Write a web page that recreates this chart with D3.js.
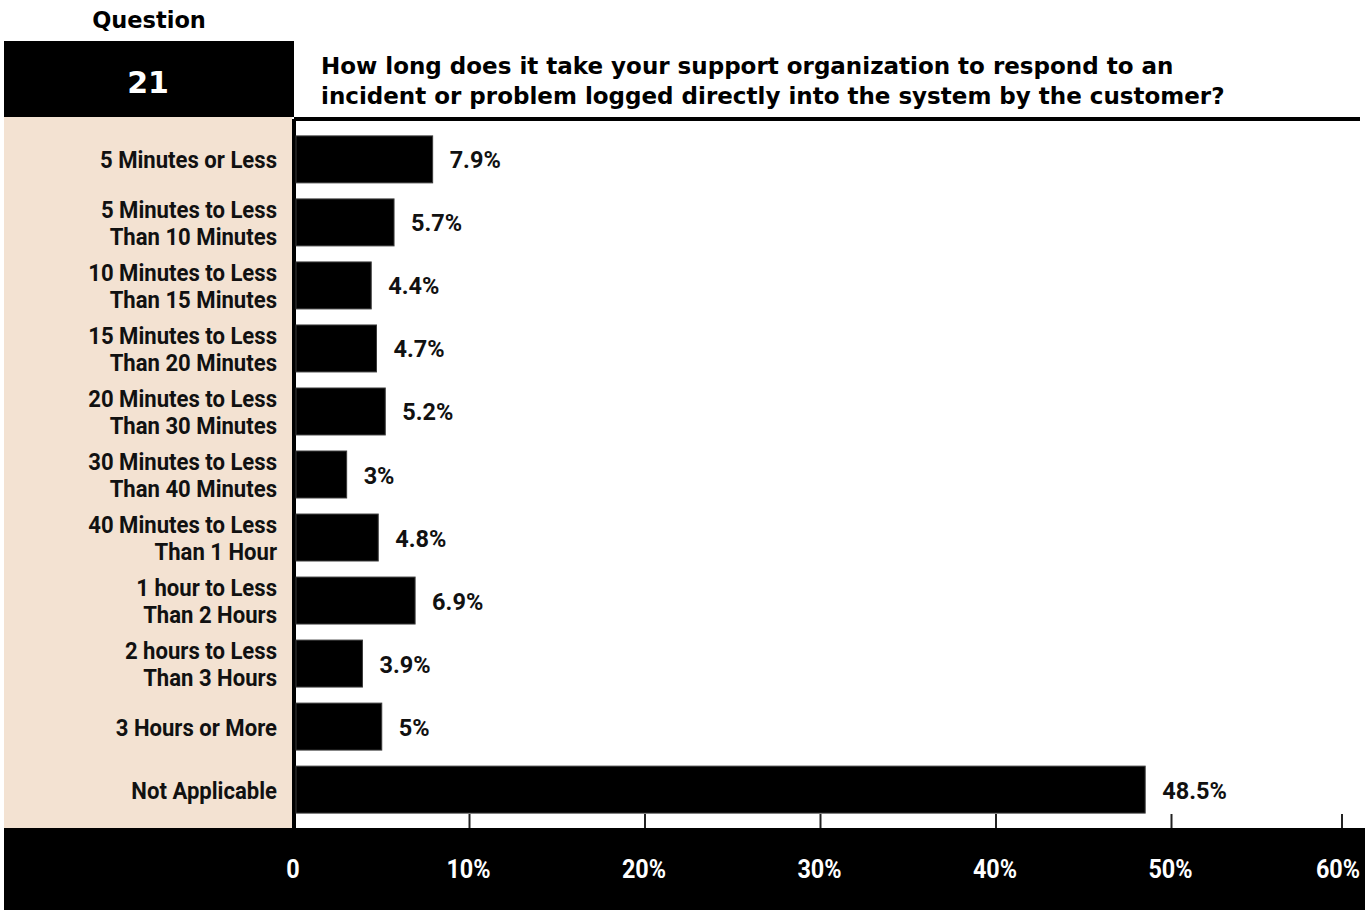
<!DOCTYPE html>
<html>
<head>
<meta charset="utf-8">
<script src="https://cdn.jsdelivr.net/npm/d3@7/dist/d3.min.js"></script>
<style>
  html, body { margin: 0; padding: 0; background: #fff; }
  svg { display: block; }
  .cond { font-family: "Roboto", "Liberation Sans", sans-serif; font-weight: bold; }
  .geo { font-family: "DejaVu Sans", "Lato", sans-serif; font-weight: bold; }
</style>
</head>
<body>
<svg id="chart" width="1365" height="912"></svg>
<script>
// Response-time categories (each entry = lines of the label)
const categories = [
  ["5 Minutes or Less"],
  ["5 Minutes to Less", "Than 10 Minutes"],
  ["10 Minutes to Less", "Than 15 Minutes"],
  ["15 Minutes to Less", "Than 20 Minutes"],
  ["20 Minutes to Less", "Than 30 Minutes"],
  ["30 Minutes to Less", "Than 40 Minutes"],
  ["40 Minutes to Less", "Than 1 Hour"],
  ["1 hour to Less", "Than 2 Hours"],
  ["2 hours to Less", "Than 3 Hours"],
  ["3 Hours or More"],
  ["Not Applicable"]
];
// Share of respondents, percent
const values = [7.9, 5.7, 4.4, 4.7, 5.2, 3, 4.8, 6.9, 3.9, 5, 48.5];
// Axis ticks
const tickValues = [0, 10, 20, 30, 40, 50, 60];
const tickLabels = ["0", "10%", "20%", "30%", "40%", "50%", "60%"];

const questionNumber = "21";
const questionLines = [
  "How long does it take your support organization to respond to an",
  "incident or problem logged directly into the system by the customer?"
];

const svg = d3.select("#chart");
const W = 1365, H = 912;

const x = d3.scaleLinear().domain([0, 60]).range([294, 1347]);
const keys = categories.map((c, i) => i);
const y = d3.scaleBand().domain(keys).range([117, 832]).paddingInner(0.255).paddingOuter(0.3);

// Keep the rightmost tick and its label inside the page edge
const tickX = v => Math.min(x(v), 1342);
const tickLabelX = v => Math.min(x(v) - 1, 1338);

// Narrow a text run horizontally to imitate a condensed face
function condense(sel, factor) {
  sel.each(function() {
    const w = this.getComputedTextLength();
    d3.select(this).attr("textLength", w * factor).attr("lengthAdjust", "spacingAndGlyphs");
  });
}

// Beige label panel
svg.append("rect").attr("x", 4).attr("y", 117).attr("width", 288).attr("height", 711)
  .attr("fill", "#f3e2d2");

// Header: "Question" caption and number box
svg.append("text").attr("class", "geo").attr("x", 149).attr("y", 28)
  .attr("text-anchor", "middle").attr("font-size", 22.5).attr("fill", "#000").text("Question");
svg.append("rect").attr("x", 4).attr("y", 41).attr("width", 290).attr("height", 76).attr("fill", "#000");
svg.append("text").attr("class", "geo").attr("x", 148).attr("y", 93)
  .attr("text-anchor", "middle").attr("font-size", 30).attr("fill", "#fff").text(questionNumber);

// Question title
svg.append("g").selectAll("text").data(questionLines).join("text")
  .attr("class", "geo").attr("x", 321).attr("y", (d, i) => 74 + i * 30)
  .attr("font-size", 23).attr("fill", "#000").text(d => d);

// Rule under the title
svg.append("rect").attr("x", 294).attr("y", 117).attr("width", 1066).attr("height", 4).attr("fill", "#000");

// Bottom axis band
svg.append("rect").attr("x", 4).attr("y", 828).attr("width", W - 4).attr("height", 82).attr("fill", "#000");

// Tick marks rising from the band
svg.append("g").selectAll("line").data(tickValues.filter(v => v > 0)).join("line")
  .attr("x1", d => tickX(d)).attr("x2", d => tickX(d))
  .attr("y1", 814).attr("y2", 828)
  .attr("stroke", "#222").attr("stroke-width", 2);

// Tick labels
svg.append("g").selectAll("text").data(tickValues).join("text")
  .attr("class", "cond").attr("x", d => tickLabelX(d)).attr("y", 878)
  .attr("text-anchor", "middle").attr("font-size", 26).attr("fill", "#fff")
  .text((d, i) => tickLabels[i])
  .call(condense, 0.9);

// Value axis baseline
svg.append("rect").attr("x", 292).attr("y", 119).attr("width", 4).attr("height", 709).attr("fill", "#000");

// Bars
svg.append("g").selectAll("rect").data(values).join("rect")
  .attr("x", x(0) + 2)
  .attr("y", (d, i) => y(i))
  .attr("width", d => x(d) - x(0) - 2)
  .attr("height", y.bandwidth())
  .attr("fill", "#000").attr("stroke", "#3a3a3a").attr("stroke-width", 1);

// Value labels
svg.append("g").selectAll("text").data(values).join("text")
  .attr("class", "cond")
  .attr("x", d => x(d) + 17)
  .attr("y", (d, i) => y(i) + y.bandwidth() / 2 + 9)
  .attr("font-size", 23.5).attr("fill", "#111")
  .text(d => d + "%");

// Category labels, one text per line
const rows = [];
categories.forEach((lines, i) => {
  const cy = y(i) + y.bandwidth() / 2;
  lines.forEach((t, j) => rows.push({ t, yy: cy - (lines.length - 1) * 13.5 + j * 27 + 9 }));
});
svg.append("g").selectAll("text").data(rows).join("text")
  .attr("class", "cond").attr("text-anchor", "end")
  .attr("x", 277).attr("y", d => d.yy)
  .attr("font-size", 24.7).attr("fill", "#111")
  .text(d => d.t)
  .call(condense, 0.895);
</script>
</body>
</html>
